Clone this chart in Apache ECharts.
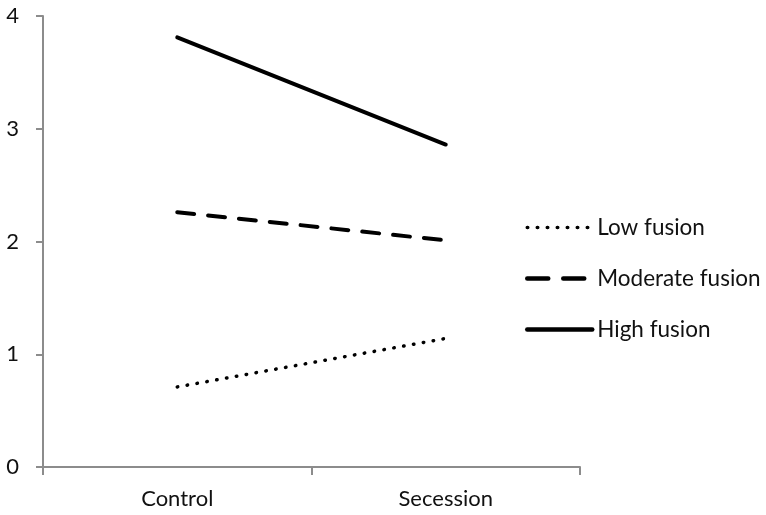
<!DOCTYPE html>
<html>
<head>
<meta charset="utf-8">
<script src="https://cdn.jsdelivr.net/npm/echarts@6/dist/echarts.min.js"></script>
<style>
html,body{margin:0;padding:0;background:#fff;}
#c{width:766px;height:515px;}
</style>
</head>
<body>
<div id="c"></div>
<script>
const categories = ['Control', 'Secession'];
const lowFusion = [0.71, 1.14];
const moderateFusion = [2.26, 2.01];
const highFusion = [3.81, 2.86];
const yTicks = [0, 1, 2, 3, 4];

const chart = echarts.init(document.getElementById('c'), null, {renderer: 'canvas'});
const font = 'Lato, "Open Sans", sans-serif';
chart.setOption({
  animation: false,
  backgroundColor: '#fff',
  grid: {left: 43, right: 186, top: 16, bottom: 48},
  legend: {
    orient: 'vertical',
    left: 520,
    top: 211,
    itemWidth: 65,
    itemHeight: 14,
    itemGap: 28,
    itemStyle: {opacity: 0},
    textStyle: {fontFamily: font, fontSize: 22.5, color: '#111', padding: [0, 0, 0, 0]},
    data: [
      {name: 'Low fusion', lineStyle: {width: 3.5, type: [0.5, 9.5], cap: 'round', color: '#000'}},
      {name: 'Moderate fusion', lineStyle: {width: 4.5, type: [21, 15], cap: 'round', color: '#000'}},
      {name: 'High fusion', lineStyle: {width: 4.5, type: 'solid', cap: 'round', color: '#000'}}
    ]
  },
  xAxis: {
    type: 'category',
    data: categories,
    boundaryGap: true,
    axisLine: {lineStyle: {color: '#8c8c8c', width: 2}},
    axisTick: {show: true, length: 8, lineStyle: {color: '#8c8c8c', width: 2}},
    axisLabel: {fontFamily: font, fontSize: 22, color: '#111', margin: 21}
  },
  yAxis: {
    type: 'value',
    min: yTicks[0],
    max: yTicks[yTicks.length - 1],
    interval: 1,
    splitLine: {show: false},
    axisLine: {show: true, lineStyle: {color: '#8c8c8c', width: 2}},
    axisTick: {show: true, length: 7, lineStyle: {color: '#8c8c8c', width: 2}},
    axisLabel: {fontFamily: font, fontSize: 22, color: '#111', margin: 24}
  },
  series: [
    {
      name: 'Low fusion', type: 'line', data: lowFusion,
      symbol: 'none', itemStyle: {color: '#000'},
      lineStyle: {color: '#000', width: 3.5, type: [0.5, 9.5], cap: 'round'}
    },
    {
      name: 'Moderate fusion', type: 'line', data: moderateFusion,
      symbol: 'none', itemStyle: {color: '#000'},
      lineStyle: {color: '#000', width: 4, type: [17, 14], cap: 'round'}
    },
    {
      name: 'High fusion', type: 'line', data: highFusion,
      symbol: 'none', itemStyle: {color: '#000'},
      lineStyle: {color: '#000', width: 4, type: 'solid', cap: 'round'}
    }
  ]
});
</script>
</body>
</html>
